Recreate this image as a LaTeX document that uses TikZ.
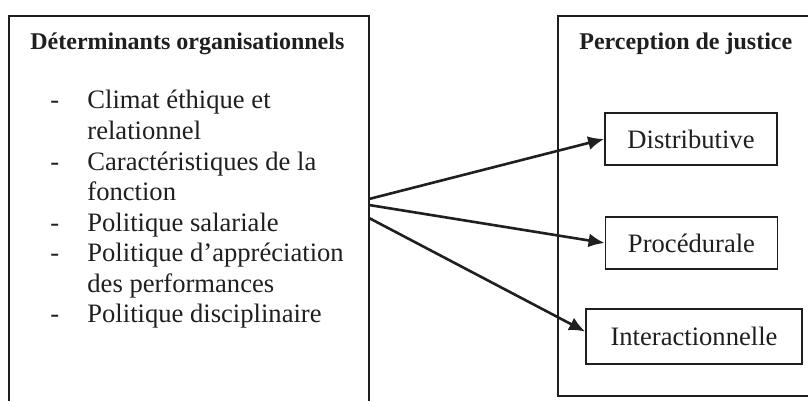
\documentclass[tikz,border=0pt]{standalone}
\usepackage{fontspec}
\setmainfont{Liberation Serif}
\usetikzlibrary{arrows.meta}
\usetikzlibrary{positioning}

\tikzset{
  cadre/.style={draw=black!88, line width=0.9pt},
  boite/.style={draw=black!88, line width=0.9pt, rectangle, minimum width=86pt, minimum height=26pt, inner sep=0pt, font=\fontsize{13.3}{15.3}\selectfont, text=black!88},
  titre/.style={font=\fontsize{12}{14}\selectfont\bfseries, text=black!88, inner sep=0pt, anchor=base west},
  ligne/.style={font=\fontsize{13.3}{15.3}\selectfont, text=black!88, inner sep=0pt, anchor=base west},
  fleche/.style={-{Latex[length=8pt,width=7pt]}, line width=1.3pt, draw=black!88}
}

\begin{document}
\begin{tikzpicture}[x=0.5pt,y=-0.5pt]
\clip (0,0) rectangle (808,401);
\fill[white] (0,0) rectangle (808,401);

% cadres
\draw[cadre] (9,430) -- (9,16) -- (369,16) -- (369,430);
\draw[cadre] (830,16) -- (558,16) -- (558,396) -- (830,396);

% titres
\node[titre] (detTitre) at (30,50) {Déterminants organisationnels};
\node[titre] (perTitre) at (579,50) {Perception de justice};

% liste des determinants
\node[ligne] (tiret1) at (50,109) {-};
\node[ligne] (climat) at (87,109) {Climat éthique et};
\node[ligne] (climatb) at (87,139.5) {relationnel};
\node[ligne] (tiret2) at (50,170) {-};
\node[ligne] (caract) at (87,170) {Caractéristiques de la};
\node[ligne] (caractb) at (87,200.5) {fonction};
\node[ligne] (tiret3) at (50,231) {-};
\node[ligne] (salaire) at (87,231) {Politique salariale};
\node[ligne] (tiret4) at (50,261.5) {-};
\node[ligne] (apprec) at (87,261.5) {Politique d’appréciation};
\node[ligne] (apprecb) at (87,292) {des performances};
\node[ligne] (tiret5) at (50,322.5) {-};
\node[ligne] (discip) at (87,322.5) {Politique disciplinaire};

% formes de justice
\node[boite] (distr) at (691,139) {Distributive};
\node[boite] (proc) at (691.5,243) {Procédurale};
\node[boite, minimum width=108pt, minimum height=27.5pt] (inter) at (694,336.5) {Interactionnelle};

% departs des fleches
\coordinate (dep1) at (369,199);
\coordinate (dep2) at (369,205);
\coordinate (dep3) at (369,218);

\draw[fleche] (dep1) -- (distr.west);
\draw[fleche] (dep2) -- (proc.west);
\draw[fleche] (dep3) -- ([yshift=2.5pt]inter.west);

\end{tikzpicture}
\end{document}
